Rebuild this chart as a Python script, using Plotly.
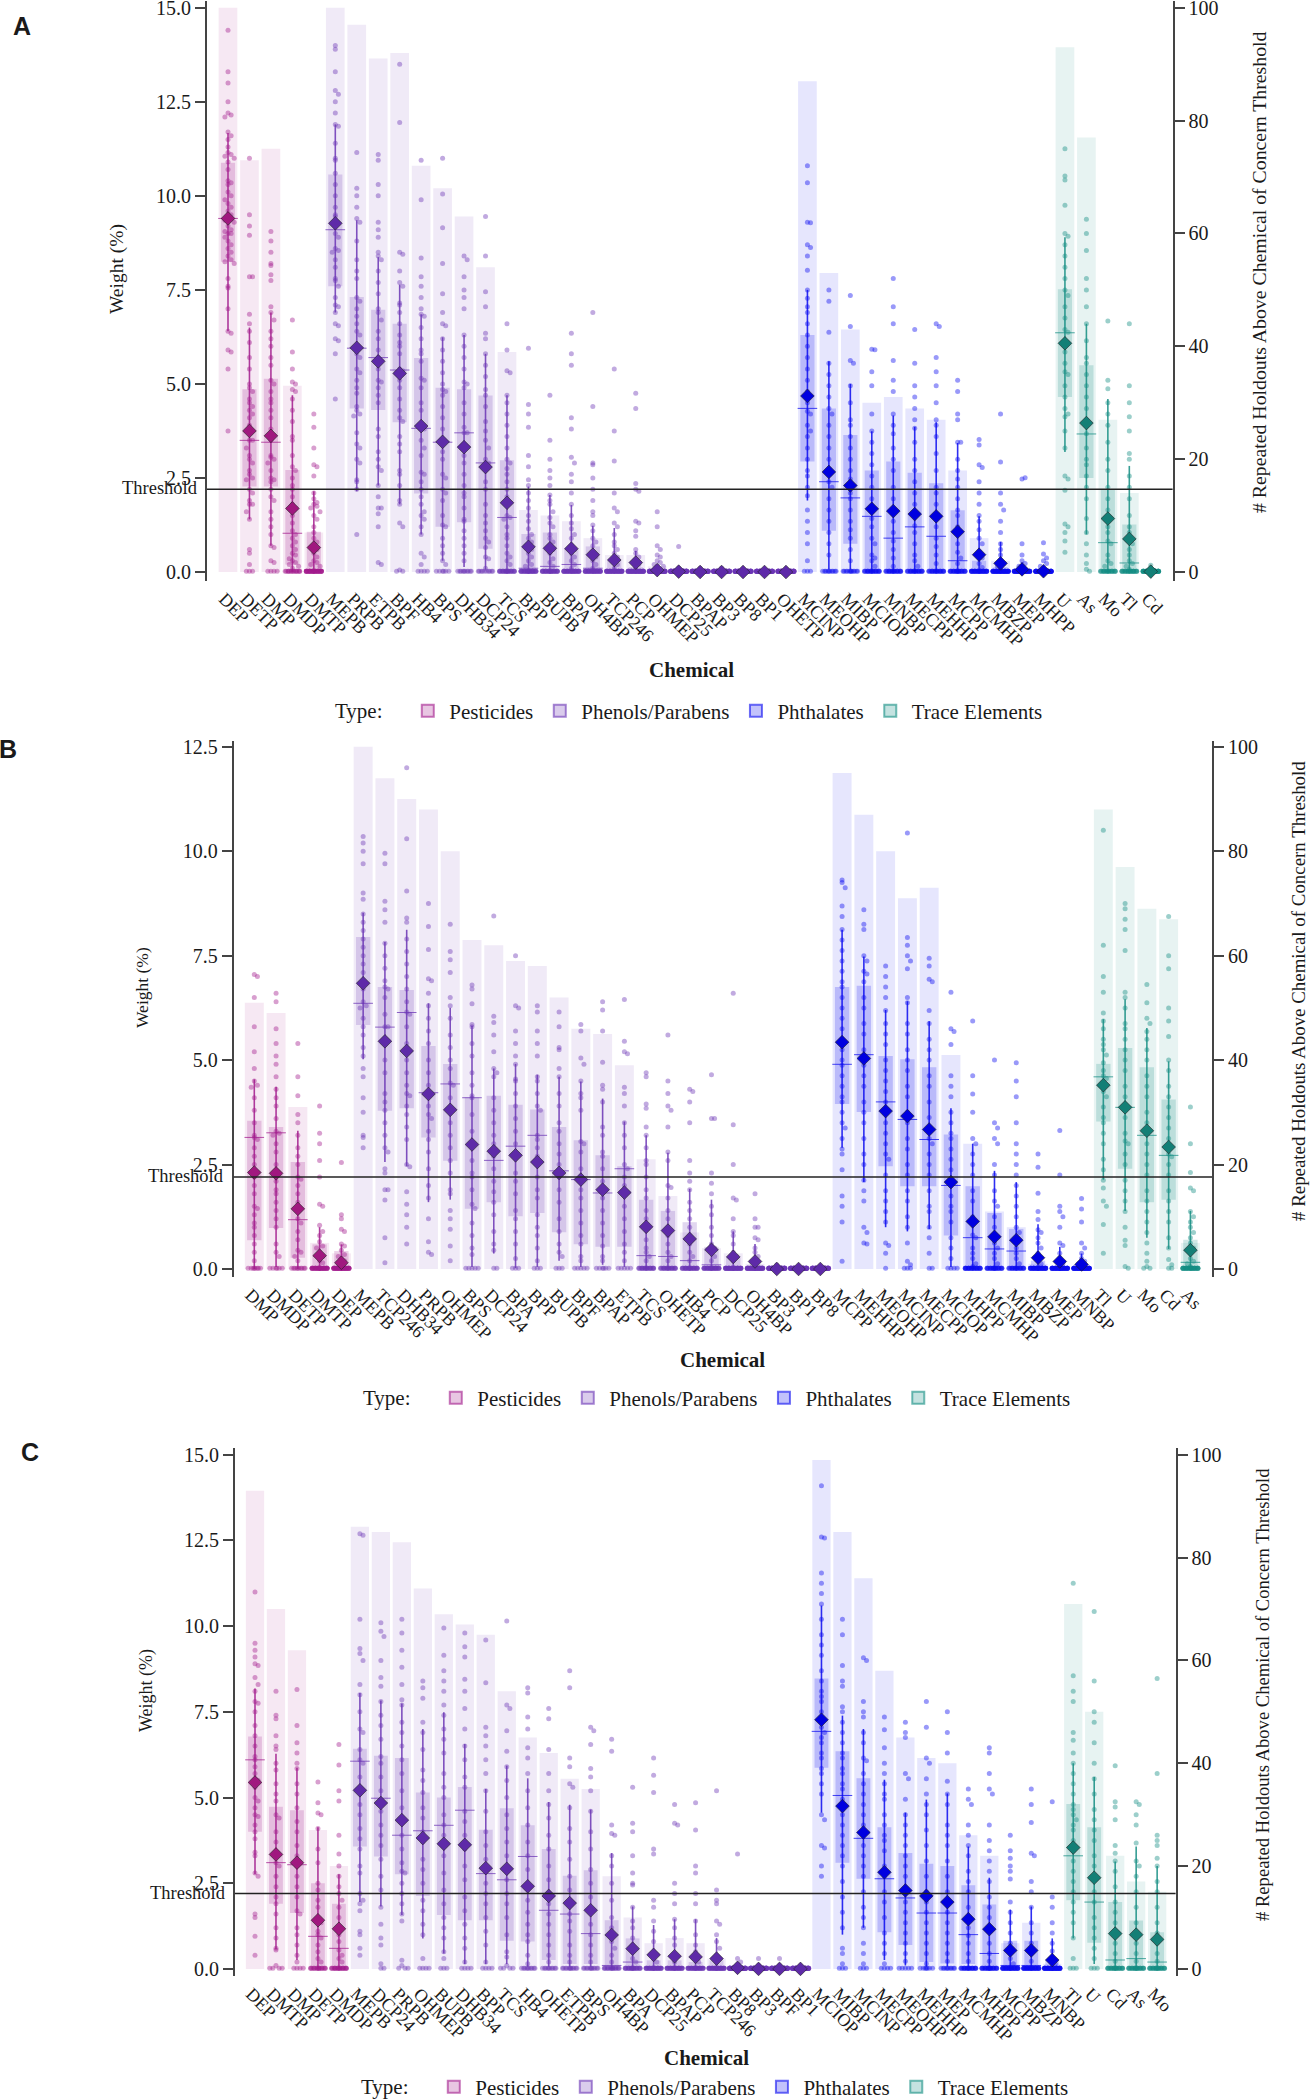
import plotly.graph_objects as go
from collections import defaultdict

W, H = 1312, 2100
TYPES = ["Pesticides", "Phenols/Parabens", "Phthalates", "Trace Elements"]
TYPE_COUNTS = [5, 22, 12, 5]
COLORS = ["#a21a8c", "#6b35b5", "#0b0bf0", "#138d82"]
MEAN_COLORS = ["#a0187f", "#5e2aa8", "#0000e0", "#137f76"]
RGB = ["162,26,140", "107,53,181", "11,11,240", "19,141,130"]
THRESHOLD = 2.2
# Swarm values of these types were read against the right-hand (0-100) axis scale.
RIGHT_SCALE_TYPES = (2, 3)

# ---------------- Panel A ----------------
A_names = ["DEP","DETP","DMP","DMDP","DMTP","MEPB","PRPB","ETPB","BPF","HB4","BPS","DHB34","DCP24","TCS","BPP","BUPB","BPA","OH4BP","TCP246","PCP","OHMEP","DCP25","BPAP","BP3","BP8","BP1","OHETP","MCINP","MEOHP","MIBP","MCIOP","MNBP","MECPP","MEHHP","MCPP","MCMHP","MBZP","MEP","MHPP","U","As","Mo","Tl","Cd"]
A_bar = [100,73,75,33,7,100,97,91,92,72,68,63,54,39,11,10,9,6,3,3,1,0,0,0,0,0,0,87,53,43,30,31,29,27,18,6,2,0,0,93,77,27,14,0]
A_q3 = [10.88,4.86,5.14,2.71,1.07,10.57,7.31,6.97,6.6,5.69,4.9,4.86,4.69,2.97,1.01,1.05,.62,.68,.3,.13,.03,.01,0,0,0,0,0,6.3,4.35,3.64,2.7,2.94,2.64,2.36,1.64,.3,.13,.05,.03,7.52,5.5,2.2,1.26,.01]
A_q1 = [8.25,2.27,2.27,.2,0,7.6,4.35,4.31,3.98,2.09,1.2,1.32,.62,.05,.02,.02,.02,.02,.02,.02,0,0,0,0,0,0,0,2.94,1.1,.75,.07,.07,.07,.07,.07,.02,.02,0,0,4.65,2.5,.02,.02,0]
A_med = [9.4,3.5,3.45,1.03,.05,9.1,5.95,5.7,5.37,3.82,3.45,3.7,2.9,1.45,.1,.15,.2,.1,.05,.02,.01,0,0,0,0,0,0,4.35,2.4,1.97,1.48,.9,1.2,.95,.3,.05,.03,.01,0,6.36,3.67,.78,.24,0]
A_mean = [9.4,3.75,3.62,1.69,.65,9.27,5.96,5.6,5.28,3.88,3.46,3.32,2.79,1.84,.67,.63,.62,.46,.32,.25,.05,.01,0,0,0,0,0,4.68,2.66,2.3,1.68,1.62,1.54,1.48,1.07,.46,.23,.07,.02,6.08,3.96,1.42,.88,.01]
A_lo = [6.4,1.4,.7,0,0,6.9,2.15,2.3,1.8,1,.3,.13,.07,0,0,0,0,0,0,0,0,0,0,0,0,0,0,1.9,.07,.07,0,0,0,0,0,0,0,0,0,3.19,1,0,0,0]
A_hi = [11.67,6.5,6.9,4.7,2.15,11.9,9.35,8.37,7.64,6.85,6.24,6.3,5.8,4.7,2.27,2.05,1.78,1.23,1.17,.56,.08,.02,0,0,0,0,0,7.5,5.6,5,3.74,4.16,3.86,3.98,3.43,1.48,.8,.25,.1,8.9,6.6,4.6,2.82,.02]
A_zero = [0,3,4,15,35,0,0,0,2,4,6,10,10,25,32,30,35,35,40,45,60,80,70,70,70,70,70,3,10,12,22,22,22,22,25,35,45,50,55,0,1,22,25,50]
A_pts = [
[14.4,13.3,13,12.5,12.2,12.15,12.1,11.7,11.6,11.5,11.3,11.15,11.1,11.05,11,10.9,10.7,10.4,10.35,10.3,10.1,10,9.9,9.8,9.7,9.6,9.5,9.4,9.4,9.35,9.3,9.2,9.1,9.05,9,9,8.9,8.8,8.7,8.6,8.5,8.4,8.3,8.25,8.2,7.8,7.6,7.55,7,6.4,6.35,5.9,5.85,5.4,3.75],
[11,9.5,9.2,8.95,7.85,7.85,6.85,6.6,6.4,6.1,5.7,5.4,5,4.9,4.8,4.6,4.5,4.4,4.3,4.2,4.1,3.9,3.7,3.5,3.5,3.3,3.1,3,2.9,2.7,2.6,2.5,2.45,2.2,2.1,1.9,1.8,1.8,1.6,1.4,.6,.5,.2],
[9.05,8.8,8.5,8.2,8.15,7.9,7.75,7.05,6.9,6.7,6.4,6.2,6,5.7,5.5,5.1,5,4.8,4.6,4.5,4.3,4.1,3.8,3.6,3.5,3.1,3.05,3,2.9,2.7,2.5,2.45,2.4,2.2,2,1.9,1.6,1.4,1.2,1,.7,.65,.3,.25],
[6.7,5.85,5.4,5.05,5,4.85,4.8,4.6,4.3,4,3.6,3.5,3.1,2.8,2.7,2.5,2.3,2.2,2,1.8,1.7,1.5,1.3,1.1,1,.9,.8,.7,.6,.5,.45,.35,.3,.25,.2,.15,.1],
[4.2,3.85,3.3,2.85,2.8,2.55,2.1,1.95,1.85,1.8,1.75,1.7,1.6,1.5,1.4,1.2,1.05,.9,.8,.7,.6,.5,.4,.3,.25,.2,.15],
[14,13.9,13.3,12.8,12.7,12.5,12.2,11.9,11.85,11.4,11,10.95,10.6,10.3,10,9.7,9.5,9.45,9.2,9,8.9,8.6,8.55,8.5,8.3,8.1,7.8,7.75,7.6,7.3,7.1,7.05,6.9,6.6,6.55,6.2,6.15,5.8,4.6],
[11.15,10.2,10,9.7,9.4,9.3,8.8,8.3,8,7.8,7.3,7.2,7,6.8,6.6,6.4,6.3,6,5.8,5.7,5.4,5.3,5.1,4.9,4.75,4.4,4.3,4.2,4.15,3.7,3.4,3.3,3,2.9,2.45,2.4,2.2,1],
[11.1,10.95,10.3,10,9.3,9.1,8.9,8.5,8.4,8.3,8,7.7,7.4,7,6.9,6.7,6.4,6.2,5.9,5.7,5.4,5.1,5.05,4.9,4.7,4.5,3.8,3.6,3.2,3,2.8,2.7,2.3,2,1.7,1.7,1.55,1.2,.25,.2],
[13.5,11.95,8.5,8.45,8,7.7,7.6,7.15,7.1,6.9,6.6,6.3,6.1,6,5.8,5.4,5.35,5.3,5.1,4.9,4.6,4.3,4.1,4,3.6,3.4,3.2,2.7,2.6,2.3,1.9,1.8,1.3,1.2,.05],
[10.95,9.9,8.35,7.85,7.6,7.3,7,6.85,6.8,6.5,6.2,5.9,5.8,5.6,5.15,5.1,4.9,4.5,4.3,3.85,3.8,3.5,3.3,3.1,2.65,2.6,2.4,2.2,2,1.8,1.6,1.5,1.4,1.2,1,.5,.4,.2],
[11,10.05,9.15,8.2,7.4,6.9,6.6,6.55,6.2,5.9,5.6,5.3,5,4.85,4.8,4.7,4.4,4.1,3.8,3.5,3.2,3,2.6,2.5,2.2,2.1,1.9,1.5,1.25,1.2,.9,.7,.5,.3,.2],
[8.4,8.3,7.85,7.5,7.3,7,6.3,6,5.7,5.4,5.05,5,4.9,4.5,4.2,3.85,3.7,3.7,3.4,3.1,2.9,2.6,2.3,2.1,2,1.7,1.4,1.35,1.1,.9,.7,.5,.3],
[9.45,8.4,7.45,7.05,6.35,6.2,5.8,5.5,5.2,4.85,4.7,4.4,4,3.75,3.5,3.3,3,2.9,2.75,2.4,2.2,1.8,1.5,1.3,1.1,.9,.8,.65,.4,.35,.1],
[6.6,5.9,5.35,5.3,4.7,4.5,4.2,3.9,3.6,3.3,3,2.9,2.75,2.6,2.4,2.2,2,1.8,1.5,1.45,1.4,1.2,1,.9,.7,.5,.4,.3,.2],
[5.95,4.45,4.2,3.85,3.1,2.8,2.45,2.3,2.1,1.9,1.7,1.5,1.35,1.15,1,.9,.8,.7,.6,.5,.4,.3,.2,.15],
[4.7,3.5,3,2.7,2.5,2.3,2.05,1.9,1.8,1.6,1.45,1.3,1.2,1,.9,.8,.7,.6,.5,.35,.25,.15],
[6.35,5.8,5.5,4.1,3.8,3.05,2.9,2.6,2.4,2.1,1.8,1.5,1.3,1.15,1,.9,.7,.6,.5,.4,.3,.2,.1],
[6.9,4.4,2.9,2.85,2.5,2.2,1.9,1.6,1.5,1.25,1.1,.9,.8,.7,.5,.4,.3,.2,.1],
[5.4,3.75,2.95,2.1,1.7,1.6,1.3,1.2,1,.8,.7,.6,.5,.4,.3,.2,.1],
[4.75,4.35,2.35,2.2,2.15,1.35,1.3,1.1,.95,.6,.5,.4,.3,.2,.1],
[1.6,1.2,.7,.6,.45,.4,.3,.25,.2,.15,.1],
[.68,.1],[.1],[.1],[.05],[.05],[.05],
[72,69,62,61.9,58,57.5,56,53.5,50,48.5,47,46,44,42,40,38,36,34,32,30,28.5,28,26,25,24,22,20,18,17,15,13.5,11,9,7,5,2],
[50,48,42.5,37,35,33,31,29,28,26,24,22,20,18,16,15,13,11,9,7,5,3],
[49,43.5,37.5,37,33,30,27,26,24,22,20,18,16.5,15.5,14,13,11,9,7.5,6,4,2],
[39.5,39.4,35.5,33,28,25,23,21,19,17,15,13,11,9.5,8,6,5,3,2.5,2,1],
[52,47,44,37.5,34,32,28,26,24.5,22,20,18,15,13,11,9,7,5.5,4,2.5,1],
[43,37,33,31,29,27,25.5,23,20,18,16,14,12,10,8.2,7,5,3,2,1],
[44,43.5,38,35.5,33,30,27,26,24,21,18,15,14,12,10,8,6,4.5,3,1.5],
[34,32,28,27,23,23,20,18,16.5,15,13,11,10,8,7,5,3.5,2.5,1.5],
[23.5,22.5,19,18.5,16,14,12,10,9,7.5,6,5,3.5,2.5,1.5,.8],
[28,19.5,14,12,11,9,7,5,4,3,2,1.5,1,.5],
[16.5,16.7,5,3,2,1.5,1,.5],
[5.2,3.2,2.5,2,1.5,1,.5],
[75,70.2,69.5,65,60,59.5,58,56,54,52,50,49,47,45,43,42.5,41,39,37,35.5,35,33,31,29,28,27.5,25,22,17,16.5,14.5,8.5,8,7,5.5,3.5],
[62.5,60,57,52,50,47,44,41,38,37,35,33,31,29,27,26,24.5,22,20,19,17,15,13,9.5,7,5,3,1.5,.5],
[44.5,34,32.5,30,28,26,23,20,18,15,13,11,9.5,8,7,5.5,5,3,2,1.5,1],
[44,33,30,27.5,25,21,20,17,15,13,10,8,7,6,5,4,3,2,1.5,1,.5],
[1.2,.5,.3]]

# ---------------- Panel B ----------------
B_names = ["DMP","DMDP","DETP","DMTP","DEP","MEPB","TCP246","DHB34","PRPB","OHMEP","BPS","DCP24","BPA","BPP","BUPB","BPF","BPAP","ETPB","TCS","OHETP","HB4","PCP","DCP25","OH4BP","BP3","BP1","BP8","MCPP","MEHHP","MEOHP","MCINP","MECPP","MCIOP","MHPP","MCMHP","MIBP","MBZP","MEP","MNBP","Tl","U","Mo","Cd","As"]
B_bar = [51,49,31,5,3,100,94,90,88,80,63,62,59,58,52,46,45,39,21,14,7,4,3,1,0,0,0,95,87,80,71,73,41,24,11,8,1,0,0,88,77,69,67,5]
B_q3 = [3.55,3.4,2.56,.59,.43,7.95,6.75,6.68,5.34,4.91,4.11,4.15,3.93,3.82,3.4,3.08,2.72,2.46,1.66,1.39,1.12,.53,.3,.1,0,0,0,6.75,6.78,5.1,5.02,4.83,3.22,1.98,1.34,.96,.2,.05,.05,4.91,5.29,4.83,4.06,.7]
B_q1 = [.69,.98,.27,0,0,5.84,3.79,3.85,3.15,2.59,1.44,1.6,1.26,1.34,.88,.59,.53,.53,.05,.02,0,0,0,0,0,0,0,3.95,3.76,2.46,1.98,1.98,.8,.05,.05,.05,0,0,0,3.53,2.4,1.6,1.66,.02]
B_med = [3.15,3.26,1.18,.03,.03,6.36,5.79,6.14,4.22,4.43,4.1,2.6,2.94,3.2,2.35,2.14,1.82,2.4,.32,.3,.2,.1,.05,.03,0,0,0,4.9,5.13,4,3.58,3.1,2,.75,.48,.43,.05,.03,.02,4.6,3.87,3.2,2.72,.16]
B_mean = [2.31,2.29,1.44,.32,.15,6.84,5.45,5.22,4.19,3.81,2.98,2.82,2.72,2.56,2.3,2.14,1.9,1.83,1.01,.92,.72,.46,.29,.18,0,0,0,5.43,5.04,3.78,3.66,3.34,2.08,1.14,.77,.69,.27,.18,.11,4.4,3.87,3.31,2.92,.45]
B_lo = [0,.05,0,0,0,5.02,2.56,2.46,1.6,1.66,.05,.37,.02,.05,.2,.05,.1,.05,0,0,0,0,0,0,0,0,0,2.9,2.08,1,.9,.96,.05,0,0,0,0,0,0,2.14,1.39,.75,.48,0]
B_hi = [4.54,4.36,3.31,1,.59,8.53,7.83,8.12,6.36,6.25,5.82,4.8,4.91,4.65,4.6,4.49,4.08,3.53,3.2,2.78,1.92,1.66,.9,.6,0,0,0,8.12,7.48,6.2,6.41,5.93,3.85,3,2.35,2.08,1.07,.53,.37,5.98,6.46,5.77,4.97,1.39]
B_zero = [8,6,10,38,45,0,0,0,0,0,5,2,3,3,3,5,6,5,22,22,28,32,45,50,75,75,75,0,0,1,3,2,4,28,25,22,40,48,55,0,1,2,2,35]
B_pts = [
[7.05,7,6.5,5.8,5.2,4.8,4.5,4.4,4.35,4.1,3.8,3.5,3.2,3.15,3.1,2.9,2.7,2.5,2.3,2.2,2,1.8,1.5,1.45,1.3,1.1,1,.8,.6,.4,.2],
[6.6,6.4,5.75,5.4,5.1,4.9,4.6,4.3,4.1,3.9,3.6,3.3,3.25,3.2,3,2.8,2.5,2.3,2.1,1.9,1.8,1.6,1.4,1.2,1,.6,.4,.3],
[5.4,4.6,4.15,3.7,3.5,3.2,2.9,2.7,2.5,2.2,2.15,2,1.8,1.6,1.4,1.2,1.1,.9,.7,.45,.4,.3,.2],
[3.9,3.25,3,2.6,2.2,1.55,1.5,1.05,.9,.8,.65,.55,.5,.4,.3,.2,.15],
[2.55,1.3,1.2,.95,.9,.6,.55,.45,.35,.3,.25,.2,.15],
[10.35,10.2,10,9.7,9,8.85,8.5,8.3,8.1,7.9,7.7,7.5,7.3,7.1,6.9,6.7,6.4,6.3,6.25,6,5.8,5.6,5.3,5.1,4.8,4.6,4.1,3.75,3.2,3.15,2.9],
[9.95,9.7,8.8,8.6,8.3,7.8,7.5,7.2,6.9,6.75,6.7,6.5,6.1,5.8,5.8,5.4,5,4.7,4.2,4,3.8,3.5,3.2,2.9,2.8,2.4,2.3,1.9,1.9,1.65,.75,.15],
[12,10.3,9.05,8.4,8.3,7.9,7.6,7.3,7,6.7,6.4,6.15,6.1,5.8,5.4,5,4.7,4.4,4.2,4.15,3.9,3.7,3.4,3.1,2.5,2.45,1.85,1.55,1.3,1,.6],
[8.75,8.2,7.65,6.95,6.9,6.6,6.3,6,5.7,5.4,5,4.7,4.4,4.25,4.2,3.9,3.7,3.6,3.3,3.1,2.8,2.4,2,1.7,1.2,.65,.4,.35],
[8.25,7.6,7.4,7.1,6.5,6.3,6,5.6,5.3,5,4.8,4.45,4.4,4.1,3.8,3.5,3.2,2.9,2.6,2.3,1.9,1.8,1.4,1.2,.95,.55,.2],
[6.8,6.7,6.35,5.85,5.8,5.4,5.1,4.7,4.4,4.15,4.1,3.7,3.3,2.9,2.6,2.3,2.2,1.9,1.55,1.45,1.1,.8,.5,.35],
[8.45,6.05,5.9,5.6,5.2,4.8,4.7,4.6,4.1,3.8,3.5,3.2,3,2.7,2.4,2.1,1.85,1.6,1.3,.9,.6,.45],
[7.5,6.3,6.25,5.7,5.4,5.1,4.9,4.55,4.5,4.2,3.9,3.6,3.3,3,2.7,2.3,2.1,1.8,1.4,1.2,.9,.6,.25],
[6.3,6.15,5.7,5.4,5.1,4.6,4.5,4.2,3.9,3.8,3.2,3.1,2.9,2.7,2.5,2.2,1.9,1.7,1.3,1,.8,.5,.2],
[6.15,5.8,5.3,5.25,4.8,4.6,4.2,3.9,3.5,3.3,3,2.75,2.5,2.2,1.9,1.6,1.2,.9,.6,.4,.3],
[5.85,5.7,5.05,4.9,4.5,4.2,4.1,3.8,3.05,3,2.8,2.4,2.15,1.9,1.7,1.4,1.1,.8,.6,.3,.2],
[6.4,6.2,5.7,4.95,4.4,4.3,4,3.4,3.2,2.8,2.7,2.4,2.1,1.9,1.7,1.4,1.1,.8,.55,.3,.2],
[6.45,5.45,5.2,5.15,4.35,4.2,3.9,3.5,3.2,2.9,2.5,2.4,2.2,2,1.8,1.5,1.2,.9,.6,.4,.2],
[4.7,4.6,3.95,3.85,3.4,3.2,2.9,2.6,2.5,2.2,1.9,1.7,1.4,1.2,1,.7,.5,.4,.3,.2],
[5.6,4.5,4.2,3.9,3.8,3.4,2.8,2.6,2,1.95,1.7,1.4,1.2,1,.8,.6,.4,.3,.2],
[4.3,4.25,4,3.5,2.6,2.3,2.1,1.9,1.6,1.4,1.2,1,.8,.6,.4,.3,.2],
[4.65,3.6,3.6,2.3,2.05,1.8,1.5,1.3,1,.8,.6,.5,.4,.3,.2],
[6.6,3.45,2.5,1.7,1.65,1.2,.9,.8,.6,.4,.3,.2],
[1.8,1.2,1,1,.75,.7,.5,.4,.3,.2],
[.1],[.05],[.05],
[74.5,74,73,69.5,67.5,65,63,61,59,57,55,54,52,50,48,46,44,42,40,39,37,35,33,32,30,28,27,25,23,22,19,14,12,9,1.5],
[68.8,66,65,60,59,57,56.5,55,52,50,47,45,42,40.5,39,37,35,32,30,28,25,22,20,17,15,13,8,7,5,4.8],
[58,56,54,52,49.5,47,45,43,40,38,36,34,32,30,28,26,24,22,21,18,15,13,11,9,5,4.5,3],
[83.5,63.5,62,60,59,57.5,52,51,47,45,42,40,38,35,33,30,28,25,23,20,18,15,13,10,8,5,1.5,.8],
[59.5,58,55.5,55,49.5,47,44,42,40,37,35,32,29,27,25,24,22,20,18,15,12,11,8,6,3],
[53,46,45.5,43,37,35,33,30,28,26,25,23,21,19,17,16,14,12,11,9,6,4,2],
[47.5,37,33.5,30,25,24,22,20,18,15,13,10,9,6.5,6,4,3,2,1,.5],
[40,28,27,25,24,20,18,15,13,12,10,8,6,5,4,3,2,1],
[39.5,36,33,28,24,22,20,18,16,14,12,10,8,7,5.5,4,3,2,1],
[22,19.5,14.5,11,9.5,7.5,7,6,5,4,3,2,1],
[26.5,18,12,11,10,8,5,4.5,3,2,1],
[13.5,11.5,9,5,4,3,2,1.5,1],
[84,62,56,53,49,47.5,46,44,43,42,41,39.5,38,37,36.5,35,34,33,31,29,28,26,24,21,19,17,15.5,13,12,8.5,3],
[70,69,67,65,61,53,52,50,47,46,44,42,40,38,35,33,31,29,26,24.5,24,22,20,17,15,13,11,8,5.5,4.5,.5],
[54.5,51,48,47,45.5,44,42,40,37,35,33,30,28,26,24,22,20,18,15,13,11,9,7,5,3,1.5,.5],
[67.5,60,57.5,50,47.5,44.5,40,38,35,33,31,29,27,25,22,21.5,20,18,15,13,11,9,6,4,1.8,.8],
[31,24,18.5,15.5,15,11,10,9,8,7,6,5,4,3,2,1.5,1,.5]]

# ---------------- Panel C ----------------
C_names = ["DEP","DMTP","DMP","DETP","DMDP","MEPB","DCP24","PRPB","OHMEP","BUPB","DHB34","BPP","TCS","HB4","OHETP","ETPB","BPS","OH4BP","BPA","DCP25","BPAP","PCP","TCP246","BP8","BP3","BPF","BP1","MCIOP","MIBP","MCINP","MECPP","MEOHP","MEHHP","MEP","MCMHP","MHPP","MCPP","MBZP","MNBP","Tl","U","Cd","As","Mo"]
C_bar = [93,70,62,27,20,86,85,83,74,69,67,65,54,45,42,37,35,18,10,5,6,5,2,0,0,0,0,99,85,76,58,45,41,40,26,22,5,9,1,71,50,22,17,15]
C_q3 = [6.78,4.73,4.63,2.5,1.9,6.42,6.22,6.15,5.15,5,5.31,4.06,4.69,4.19,3.5,2.72,2.88,1.42,.89,.25,.25,.2,.25,.02,0,0,0,8.47,6.35,5.56,4.13,3.38,3.07,3,2.44,1.88,.82,.82,.26,4.81,4.13,1.95,1.41,1.07]
C_q1 = [4,1.9,1.63,.07,.07,3.57,3.28,2.76,2.13,1.57,1.42,1.42,.82,.8,.26,.14,.14,.07,.07,0,0,0,0,0,0,0,0,5.87,3.1,2.63,1.07,.7,.2,.16,.14,.07,.07,.07,.03,2,.76,.07,.07,.07]
C_med = [6.1,3.1,3.04,.95,.6,6.06,4.98,3.9,4.03,4.19,4.63,2.78,2.6,3.28,1.71,1.6,1.03,.1,.2,.05,.05,.05,.05,0,0,0,0,6.93,5.06,3.81,2.63,2.07,1.63,1.63,1,.45,.1,.1,.05,3.3,1.95,.26,.3,.2]
C_mean = [5.44,3.34,3.1,1.42,1.17,5.21,4.84,4.34,3.82,3.65,3.62,2.94,2.92,2.41,2.13,1.92,1.71,.99,.59,.41,.37,.35,.3,.03,0,0,0,7.27,4.75,3.98,2.82,2.29,2.13,1.95,1.45,1.16,.54,.54,.26,3.54,2.66,1.03,1,.86]
C_lo = [2.76,.57,.26,0,0,1.95,1.82,1.57,.89,.45,.14,.14,.14,.07,.07,.07,.07,0,0,0,0,0,0,0,0,0,0,4.56,1,1.2,.26,.1,.07,.07,.07,.07,0,0,0,.89,.14,.07,.07,.07]
C_hi = [8.18,6.28,5.87,4.13,2.76,8.05,7.83,7.74,7,7.49,6.56,5.25,5.93,5.56,4.87,4.79,4.65,3.38,1.82,1.28,1.45,1.45,.9,.1,0,0,0,10.6,7.39,7,5.52,4.56,4.94,5.12,3.57,2.66,1.73,1.82,.89,6,5.6,3.13,3.57,3]
C_zero = [0,4,4,18,22,0,2,3,4,3,4,4,4,10,10,12,12,18,25,32,32,32,38,70,75,75,75,0,3,3,4,5,7,10,22,25,35,35,50,3,3,25,25,25]
C_pts = [
[11,9.5,9.3,9.1,8.9,8.85,8.5,8.3,8.1,7.8,7.75,7.5,7.1,6.8,6.5,6.2,6.1,5.9,5.7,5.5,5.3,5,4.9,4.7,4.5,4.45,4.2,4,3.8,3.4,3.3,2.8,2.7,1.6,1.5,.95,.4],
[8.1,7.4,7.3,6.8,6.5,6.4,6,5.8,5.4,5.1,4.9,4.5,4.4,4,3.7,3.4,3.1,3,2.7,2.4,2.1,1.9,1.6,1.2,.9,.6,.55,.1],
[8.15,7.1,6.6,6.3,6,5.85,5.4,5.1,4.7,4.3,4,3.6,3.3,3,2.7,2.4,2.1,1.7,1.6,1.2,1,.7,.4,.2],
[5.45,4.85,4.55,4.5,4.1,3.5,3.1,2.5,2.3,2,1.8,1.5,1.35,1.1,1,.9,.7,.5,.3,.2],
[6.55,5.95,5.2,4.9,3.9,3.35,3,2.7,2.4,2.2,2,1.8,1.5,1.2,1,.8,.55,.4,.3,.2],
[12.7,12.65,10.2,9.35,9.2,9,8.3,8,7.5,7,6.9,6.4,6.1,6,5.6,5.2,4.8,4.5,4.1,3.8,3.5,3,2.8,2.2,2,1.9,1.7,1.1,1,.6,.4],
[10.1,9.85,9.7,9,8.5,8.25,7.8,7.4,7.1,6.7,6.2,6,5.6,5.2,4.9,4.6,4.2,3.9,3.6,3.2,2.7,2.3,1.8,1.3,.9,.7,.15],
[10.2,9.8,9.3,8.8,8.3,7.85,7.7,7.2,6.9,6.5,6.1,5.7,5.2,4.7,4.3,3.9,3.5,3.1,2.85,2.8,2.5,2.2,1.9,1.6,1.4,.25,.1],
[8.4,8.2,7.9,7.2,6.9,6.4,5.8,5.5,5.15,4.7,4.4,4,3.7,3.2,2.9,2.5,2,1.7,1.3,1,.3],
[9.95,9.15,8.7,8.4,8.1,7.7,7.4,7,6.7,6.3,5.7,5.3,5,4.5,4.2,3.9,3.3,2.8,2.3,1.9,1.5,1.2,.9,.5,.3],
[9.8,9.4,9.1,8.45,8.1,7.6,7,6.5,6.1,5.6,5.3,4.6,4.3,3.9,3.5,3,2.6,2.1,1.7,1.3,.9,.6,.2],
[9.6,8.35,7.05,6.8,6.5,6.1,5.7,5.2,4.6,4,3.6,3.2,2.9,2.5,2.2,1.9,1.5,1.1,.7,.2],
[10.15,7.7,7.6,6.95,6.35,5.9,5.5,5,4.5,4.1,3.7,3.3,3,2.6,2.2,1.9,1.5,1,.5,.35,.1],
[8.2,8.05,7.35,7,6.45,6.15,5.7,5.2,4.7,4.2,3.7,3.3,2.9,2.4,2,1.65,1.3,1,.8,.4,.15],
[7.6,7.3,6.4,5.7,5.2,4.8,4.4,3.9,3.5,3,2.6,2.2,1.9,1.6,1.3,1,.7,.4,.2],
[8.7,8.2,6.15,5.9,5.4,5.3,4.7,4.1,3.7,3.2,2.7,2.3,1.9,1.6,1.4,1.1,.7,.4,.2],
[7.05,6.95,6.55,5.85,5.6,5.2,4.6,4,3.5,2.9,2.5,2.1,1.7,1.3,1,.7,.4,.2],
[6.7,6.35,4.2,3.95,3.9,3.3,3,2.5,2,1.5,1.2,1,.8,.6,.4,.2],
[5.3,4.25,4,3.3,2.8,2.5,2.45,1.8,1.4,1.2,.9,.7,.5,.3,.2],
[6.15,5.65,5.15,3.5,3.35,2,1.8,1.4,1.1,.8,.5,.3,.2],
[4.8,4.25,4.2,2.5,2.2,1.9,1.45,1.2,.9,.7,.4,.2],
[4.85,4.05,3,2.8,2.2,1.9,1.4,1,.7,.5,.3,.2],
[5.2,2.3,2,1.9,1.4,1.3,1,.8,.6,.4,.2],
[3.35,.3,.2,.1],[.3,.1],[.3,.1],[.05],
[94,84,83.8,77,75,73,71,68,65,63,61,58,56,54,53,52,50,48,47,46,45,44,42,41,39,38,36,34,30,29,24,23.5,20,18],
[68,65,59,56,55,51,50,48,46,44,42,41,39,38,36,35,33,31,30,28,26,24,22,20,17,14,11,8,4,3,1],
[60.5,60,52,50,49,46,44,41,40.5,38,36,34,32,30,28,26,24,22,20,18,15,12,10,8,5,3,1],
[49,46.5,43,40,38,36,34,33,30,28,26,25,23,20,18,15,13,10,7,5,3,1],
[48,46,45,38,37,33,30,28,26,24,22,20,18,15,13,11,9,7,5,3,1.5],
[52,47,41,40,37,34,32,30,27,24,21,18,15,13,11,9,7,5,3,1],
[50,46,42,36.5,34,32,28,26,24,21,18,15,13,11,9,7,5,3,1.5],
[35,33,32,28,26,24,22,19,17,15,12,10,8,6.5,5,3,1.5],
[43,42,38,35,34,28,25,23,21,19,17,14,12,10,8,5,3,1.5],
[26,23,21.5,20,19,17.5,13,11,9,7,5,3.5,2,1],
[35,32,28.5,22.5,22,17,15,12,9,7,5,3,1.5],
[32.5,14,12,9,7,5,3.5,2,1],
[75,57,54,52,46,44.5,42,40,38,36,34,32,31,30,29,28,27,25,23,21,19,17,15,13,11,9,6,2],
[69.5,56,50,48,44,40,37,34,31,29,27,25,22,20,18,15,13,10,8,6,4,2],
[39.5,32.5,31.5,29,24,22.5,21,19,16,13,11,9,7,5,3,1.5],
[32.5,32,30,28,24.5,21,20,18,15,12,9,7,5,3,1.5],
[56.5,38,26,25,24,21.5,20,17,15,12,9,7,5,3,1.5]]

# ---------------- Layout of each panel, in page pixels ----------------
PANELS = [
 dict(label="A", names=A_names, bar=A_bar, q1=A_q1, q3=A_q3, med=A_med, mean=A_mean, lo=A_lo, hi=A_hi, zero=A_zero, pts=A_pts,
      left=207.0, right=1172.6, top=1.0, bottom=581.0, y0=572.0, ytop=7.8, ymax=15.0, first=228.0, step=21.46,
      w_x=117, w_y=269, r_x=1259, r_y=272, chem_x=691, chem_y=670, th_x=200, th_y=488, leg_x=333, leg_y=711, lab=(22,26), rfs=19.8, wfs=19.5),
 dict(label="B", names=B_names, bar=B_bar, q1=B_q1, q3=B_q3, med=B_med, mean=B_mean, lo=B_lo, hi=B_hi, zero=B_zero, pts=B_pts,
      left=233.7, right=1212.0, top=741.0, bottom=1277.0, y0=1269.0, ytop=746.8, ymax=12.5, first=254.3, step=21.77,
      w_x=142, w_y=988, r_x=1299, r_y=991, chem_x=722.6, chem_y=1360, th_x=226, th_y=1176, leg_x=361, leg_y=1398, lab=(8,749), rfs=18.9, wfs=17.5),
 dict(label="C", names=C_names, bar=C_bar, q1=C_q1, q3=C_q3, med=C_med, mean=C_mean, lo=C_lo, hi=C_hi, zero=C_zero, pts=C_pts,
      left=234.9, right=1175.6, top=1448.0, bottom=1976.0, y0=1968.9, ytop=1454.8, ymax=15.0, first=255.0, step=20.98,
      w_x=146, w_y=1691, r_x=1262, r_y=1695, chem_x=706, chem_y=2058, th_x=228, th_y=1893, leg_x=359, leg_y=2087, lab=(30,1452), rfs=18.6, wfs=18),
]

FONT = "Liberation Serif"
INK = "#1a1a1a"
TICK_FS = 20
XTICK_FS = 18
fig = go.Figure()
annotations, shapes = [], []
layout = {}


def ann(x, y, text, size, angle=0, anchor="center", bold=False, family=FONT):
    annotations.append(dict(xref="paper", yref="paper", x=x / W, y=1 - y / H, text=f"<b>{text}</b>" if bold else text,
                            showarrow=False, font=dict(family=family, size=size, color=INK), textangle=angle,
                            xanchor=anchor, yanchor="middle"))


def swarm(values, px_per_unit, step):
    """Horizontal beeswarm offsets (axis units) for a list of values."""
    rows = defaultdict(int)
    out = []
    for v in values:
        b = round(v * px_per_unit / 8.0)
        k = rows[b]
        rows[b] += 1
        off = ((k + 1) // 2) * 3.1 * (1 if k % 2 else -1)
        if abs(off) > 9.2:
            off = (abs(off) % 9.2 + 0.9) * (1 if k % 2 else -1)
        out.append(off / step)
    return out


for n, p in enumerate(PANELS):
    i = n + 1
    xname = "x" if i == 1 else f"x{i}"
    rname = "y" if i == 1 else f"y{i}"       # right axis, drawn first (holds the pale bars)
    lname = f"y{i + 3}"                       # left axis, overlays the right axis
    ppu = (p["y0"] - p["ytop"]) / p["ymax"]
    low = -(p["bottom"] - p["y0"]) / ppu
    high = (p["y0"] - p["top"]) / ppu
    to_right = 100.0 / p["ymax"]
    positions = list(range(len(p["names"])))
    layout["xaxis" if i == 1 else f"xaxis{i}"] = dict(
        domain=[p["left"] / W, p["right"] / W], anchor=rname,
        range=[(p["left"] - p["first"]) / p["step"], (p["right"] - p["first"]) / p["step"]],
        tickmode="array", tickvals=positions, ticktext=p["names"], tickangle=45, ticklen=0,
        tickfont=dict(family=FONT, size=XTICK_FS, color=INK), showgrid=False, zeroline=False, showline=False,
        ticklabelstandoff=3, ticklabelshift=-4)
    dom = [1 - p["bottom"] / H, 1 - p["top"] / H]
    common = dict(domain=dom, showgrid=False, zeroline=False, showline=True, linewidth=2, linecolor="#444",
                  ticks="outside", ticklen=10, tickwidth=1.5, tickcolor="#444", ticklabeloverflow="allow",
                  tickfont=dict(family=FONT, size=TICK_FS, color=INK))
    layout["yaxis" if i == 1 else f"yaxis{i}"] = dict(common, anchor=xname, side="right",
        range=[low * to_right, high * to_right], tick0=0, dtick=20, tickformat="d")
    layout[f"yaxis{i + 3}"] = dict(common, anchor=xname, side="left", overlaying=rname, range=[low, high],
        tick0=0, dtick=2.5, tickformat=".1f")

    start = 0
    legend_name = "legend" if i == 1 else f"legend{i}"
    for t, count in enumerate(TYPE_COUNTS):
        idx = positions[start:start + count]
        start += count
        color, mc, rgb = COLORS[t], MEAN_COLORS[t], RGB[t]
        # share of repeated holdouts above the threshold (right axis)
        fig.add_trace(go.Bar(x=idx, y=[p["bar"][j] for j in idx], width=0.87, xaxis=xname, yaxis=rname,
                             marker=dict(color=f"rgba({rgb},0.10)", line_width=0), showlegend=False, hoverinfo="skip"))
        # interquartile box (left axis)
        fig.add_trace(go.Bar(x=idx, y=[p["q3"][j] - p["q1"][j] for j in idx], base=[p["q1"][j] for j in idx], width=0.66,
                             xaxis=xname, yaxis=lname, marker=dict(color=f"rgba({rgb},0.2)", line_width=0),
                             showlegend=False, hoverinfo="skip"))
        # swarm of holdout values
        sx, sy = [], []
        for j in idx:
            typed = p["pts"][j]
            if t in RIGHT_SCALE_TYPES:
                typed = [v / to_right for v in typed]
            vals = list(typed) + [0.02] * p["zero"][j]
            sy += vals
            sx += [j + o for o in swarm(vals, ppu, p["step"])]
        fig.add_trace(go.Scatter(x=sx, y=sy, mode="markers", xaxis=xname, yaxis=lname,
                                 marker=dict(size=5, color=color, opacity=0.42, line_width=0), showlegend=False, hoverinfo="skip"))
        # whiskers
        wx, wy = [], []
        for j in idx:
            wx += [j, j, None]
            wy += [p["lo"][j], p["hi"][j], None]
        fig.add_trace(go.Scatter(x=wx, y=wy, mode="lines", xaxis=xname, yaxis=lname, line=dict(color=color, width=1.6),
                                 opacity=0.85, showlegend=False, hoverinfo="skip"))
        # medians
        fig.add_trace(go.Scatter(x=idx, y=[p["med"][j] for j in idx], mode="markers", xaxis=xname, yaxis=lname,
                                 marker=dict(symbol="line-ew", size=14, opacity=0.75, line=dict(color=color, width=1)),
                                 showlegend=False, hoverinfo="skip"))
        # means
        fig.add_trace(go.Scatter(x=idx, y=[p["mean"][j] for j in idx], mode="markers", xaxis=xname, yaxis=lname,
                                 marker=dict(symbol="diamond", size=10.5, color=mc, line=dict(color="rgba(30,30,30,0.75)", width=0.8)),
                                 showlegend=False, hoverinfo="skip"))
        # legend key
        fig.add_trace(go.Bar(x=[None], y=[None], name=TYPES[t], xaxis=xname, yaxis=lname, legend=legend_name,
                             marker=dict(color=f"rgba({rgb},0.25)", line=dict(color=f"rgba({rgb},0.6)", width=2)), hoverinfo="skip"))

    layout[legend_name] = dict(orientation="h", x=p["leg_x"] / W, y=1 - p["leg_y"] / H, xanchor="left", yanchor="middle",
                               title=dict(text="Type:\u00a0\u00a0\u00a0", side="left", font=dict(family=FONT, size=21, color=INK)),
                               font=dict(family=FONT, size=21, color=INK), bgcolor="rgba(0,0,0,0)", borderwidth=0,
                               itemwidth=33, itemclick=False, itemdoubleclick=False)

    shapes.append(dict(type="line", xref=f"{xname} domain", yref=lname, x0=0, x1=1, y0=THRESHOLD, y1=THRESHOLD,
                       line=dict(color="#222", width=1.5), layer="above"))
    ann(p["th_x"], p["th_y"], "Threshold", 18.5, anchor="right")
    ann(p["w_x"], p["w_y"], "Weight (%)", p["wfs"], angle=-90)
    ann(p["r_x"], p["r_y"], "# Repeated Holdouts Above Chemical of Concern Threshold", p["rfs"], angle=-90)
    ann(p["chem_x"], p["chem_y"], "Chemical", 21, bold=True)
    ann(p["lab"][0], p["lab"][1], p["label"], 25, bold=True, family="Liberation Sans")

fig.update_layout(width=W, height=H, autosize=False, margin=dict(l=0, r=0, t=0, b=0, autoexpand=False), paper_bgcolor="white",
                  plot_bgcolor="white", barmode="overlay", annotations=annotations, shapes=shapes, **layout)
fig.write_html("out.html", config={"displayModeBar": False},
               post_script="document.body.style.margin='0';document.documentElement.style.overflow='hidden';document.body.style.overflow='hidden';")
